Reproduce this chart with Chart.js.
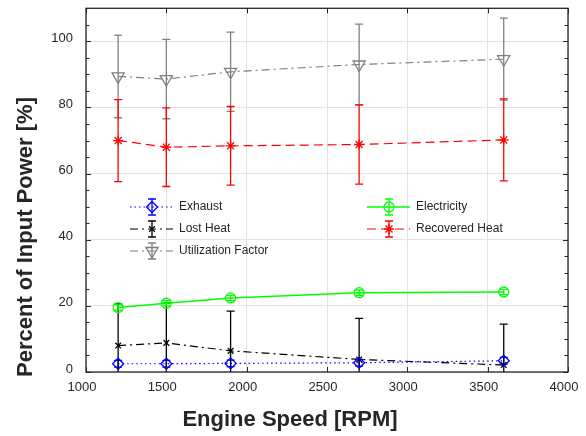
<!DOCTYPE html>
<html>
<head>
<meta charset="utf-8">
<script src="https://cdn.jsdelivr.net/npm/chart.js@4"></script>
<style>
  body { margin: 0; background: #fff; }
  #wrap { width: 586px; height: 436px; }
</style>
</head>
<body>
<div id="wrap"><canvas id="chart" width="586" height="436"></canvas></div>
<script>
// engine speeds [RPM]
const rpm = [1200, 1500, 1900, 2700, 3600];

// percent of input power, with +/- error
const exhaust = [2.5, 2.5, 2.6, 2.8, 3.4];
const exhaustErr = [1, 1, 1, 1, 1];
const lostHeat = [8.0, 8.8, 6.4, 3.8, 2.1];
const lostHeatErr = [12.6, 12.0, 12.0, 12.4, 12.4];
const utilization = [89.4, 88.6, 90.8, 93.0, 94.6];
const utilizationErr = [12.5, 12.0, 12.0, 12.2, 12.4];
const electricity = [19.5, 20.8, 22.4, 24.0, 24.2];
const electricityErr = [0.8, 0.8, 0.8, 0.8, 0.8];
const recovered = [70.0, 68.0, 68.4, 68.8, 70.2];
const recoveredErr = [12.4, 11.9, 11.9, 12.0, 12.4];

const xTicks = [1000, 1500, 2000, 2500, 3000, 3500, 4000];
const yTicks = [0, 20, 40, 60, 80, 100];

const FONT = "'Liberation Sans', Arial, sans-serif";
const INK = "#262626";

function pts(vals) {
  return vals.map((v, i) => ({ x: rpm[i], y: v }));
}

const series = [
  { label: "Exhaust", data: exhaust, err: exhaustErr, color: "#0000ff", dash: [1.5, 3], style: "rectRot", r: 5.5, rot: 0 },
  { label: "Lost Heat", data: lostHeat, err: lostHeatErr, color: "#000000", dash: [8, 4, 2, 4], style: "crossRot", r: 4, rot: 0 },
  { label: "Utilization Factor", data: utilization, err: utilizationErr, color: "#808080", dash: [8, 4, 2, 4], style: "triangle", r: 7, rot: 180 },
  { label: "Electricity", data: electricity, err: electricityErr, color: "#00ff00", dash: [], style: "circle", r: 5, rot: 0 },
  { label: "Recovered Heat", data: recovered, err: recoveredErr, color: "#ff0000", dash: [9, 5], style: "star", r: 5, rot: 0 }
];

const errorBars = {
  id: "errorBars",
  beforeDatasetsDraw(chart) {
    const { ctx, chartArea: a, scales: { x, y } } = chart;
    ctx.save();
    ctx.beginPath();
    ctx.rect(a.left, a.top, a.right - a.left, a.bottom - a.top);
    ctx.clip();
    series.forEach(s => {
      ctx.strokeStyle = s.color;
      ctx.lineWidth = 1.3;
      ctx.setLineDash([]);
      s.data.forEach((v, i) => {
        const px = x.getPixelForValue(rpm[i]);
        const top = y.getPixelForValue(v + s.err[i]);
        const bot = y.getPixelForValue(v - s.err[i]);
        ctx.beginPath();
        ctx.moveTo(px, top); ctx.lineTo(px, bot);
        ctx.moveTo(px - 4, top); ctx.lineTo(px + 4, top);
        ctx.moveTo(px - 4, bot); ctx.lineTo(px + 4, bot);
        ctx.stroke();
      });
    });
    ctx.restore();
  }
};

const frame = {
  id: "frame",
  afterDraw(chart) {
    const { ctx, chartArea: a, scales: { x, y } } = chart;
    ctx.save();
    ctx.strokeStyle = INK;
    ctx.lineWidth = 1;
    ctx.setLineDash([]);
    ctx.beginPath();
    // inward ticks, x every 500
    xTicks.forEach(t => {
      const px = Math.round(x.getPixelForValue(t)) + 0.5;
      ctx.moveTo(px, a.bottom); ctx.lineTo(px, a.bottom - 5);
      ctx.moveTo(px, a.top); ctx.lineTo(px, a.top + 5);
    });
    // y ticks every 5, longer every 20
    for (let t = 0; t <= 110; t += 5) {
      const py = Math.round(y.getPixelForValue(t)) + 0.5;
      const len = t % 20 === 0 ? 5 : 3.5;
      ctx.moveTo(a.left, py); ctx.lineTo(a.left + len, py);
      ctx.moveTo(a.right, py); ctx.lineTo(a.right - len, py);
    }
    ctx.stroke();
    ctx.lineWidth = 1.3;
    ctx.strokeRect(a.left, a.top, a.right - a.left, a.bottom - a.top);

    // axis titles
    ctx.fillStyle = INK;
    ctx.font = "bold 22px " + FONT;
    ctx.textAlign = "center";
    ctx.textBaseline = "middle";
    ctx.fillText("Engine Speed [RPM]", 290, 420);
    ctx.translate(26, 237);
    ctx.rotate(-Math.PI / 2);
    ctx.fillText("Percent of Input Power [%]", 0, 0);
    ctx.restore();

    // legends (two columns, no box)
    const cols = [
      { x0: 130, items: [0, 1, 2] },
      { x0: 367, items: [3, 4] }
    ];
    ctx.save();
    cols.forEach(c => {
      c.items.forEach((k, j) => {
        const s = series[k];
        const ly = 207 + j * 22;
        const mx = c.x0 + 22;
        ctx.strokeStyle = s.color;
        ctx.lineWidth = s.label === "Electricity" ? 1.5 : 1.2;
        ctx.setLineDash(s.dash);
        ctx.beginPath();
        ctx.moveTo(c.x0, ly); ctx.lineTo(c.x0 + 43, ly);
        ctx.stroke();
        ctx.setLineDash([]);
        ctx.lineWidth = 1.3;
        ctx.beginPath();
        ctx.moveTo(mx, ly - 8); ctx.lineTo(mx, ly + 8);
        ctx.moveTo(mx - 4, ly - 8); ctx.lineTo(mx + 4, ly - 8);
        ctx.moveTo(mx - 4, ly + 8); ctx.lineTo(mx + 4, ly + 8);
        ctx.stroke();
        ctx.fillStyle = "rgba(0,0,0,0)";
        Chart.helpers.drawPoint(ctx, {
          pointStyle: s.style, radius: s.r, rotation: s.rot, borderWidth: 1.3
        }, mx, ly);
        ctx.fillStyle = INK;
        ctx.font = "12px " + FONT;
        ctx.textAlign = "left";
        ctx.textBaseline = "middle";
        ctx.fillText(s.label, c.x0 + 49, ly);
      });
    });
    ctx.restore();
  }
};

new Chart(document.getElementById("chart"), {
  type: "line",
  data: {
    datasets: series.map(s => ({
      label: s.label,
      data: pts(s.data),
      borderColor: s.color,
      backgroundColor: "rgba(0,0,0,0)",
      borderWidth: s.label === "Electricity" ? 1.5 : 1.2,
      borderDash: s.dash,
      pointStyle: s.style,
      pointRadius: s.r,
      pointRotation: s.rot,
      pointBorderWidth: 1.3,
      pointBorderColor: s.color,
      pointBackgroundColor: "rgba(0,0,0,0)",
      tension: 0
    }))
  },
  options: {
    responsive: false,
    animation: false,
    layout: { padding: { top: 7, right: 18, left: 0, bottom: 0 } },
    plugins: { legend: { display: false }, tooltip: { enabled: false } },
    scales: {
      x: {
        type: "linear",
        min: 1000, max: 4000,
        afterFit: s => { s.height = 64; s.paddingLeft = 0; s.paddingRight = 0; },
        afterBuildTicks: s => { s.ticks = xTicks.map(v => ({ value: v })); },
        grid: { color: "#e3e3e3", drawTicks: false },
        border: { display: false },
        ticks: { color: INK, font: { family: FONT, size: 13 }, padding: 8, maxRotation: 0, labelOffset: -4, callback: v => String(v) }
      },
      y: {
        min: 0, max: 110,
        afterFit: s => { s.width = 86; s.paddingTop = 0; s.paddingBottom = 0; },
        afterBuildTicks: s => { s.ticks = yTicks.map(v => ({ value: v })); },
        grid: { color: "#e3e3e3", drawTicks: false },
        border: { display: false },
        ticks: { color: INK, font: { family: FONT, size: 13 }, padding: 13, labelOffset: -3, callback: v => String(v) }
      }
    }
  },
  plugins: [errorBars, frame]
});
</script>
</body>
</html>
